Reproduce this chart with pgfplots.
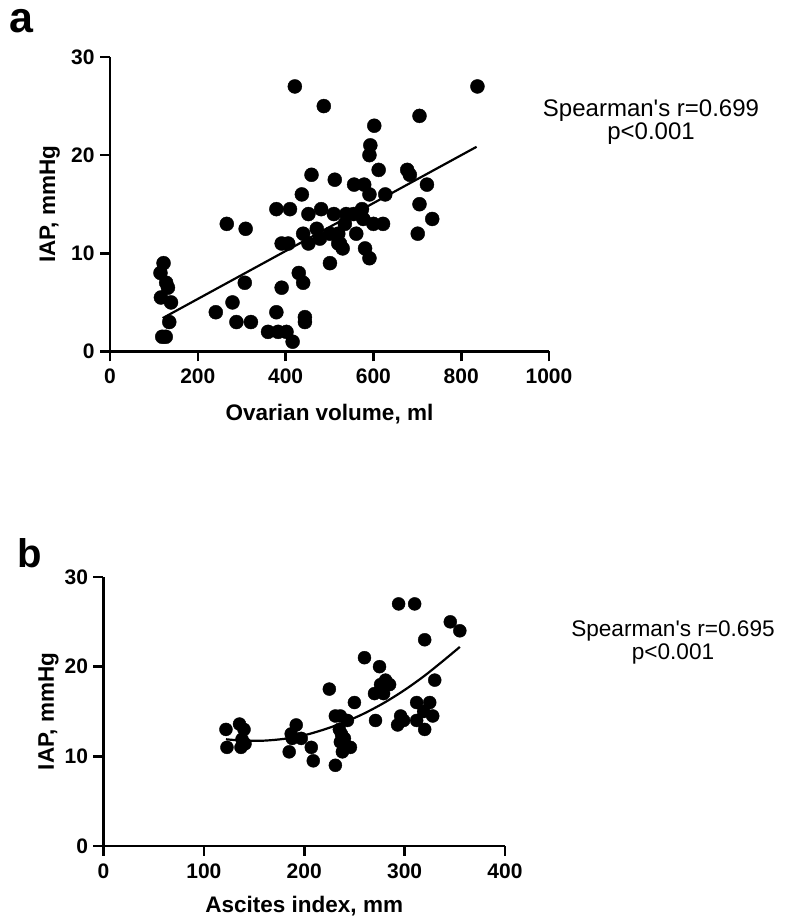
\documentclass[border=0pt]{standalone}
\usepackage{fontspec}
\setmainfont{Liberation Sans}
\usepackage{pgfplots}
\pgfplotsset{compat=1.18}

\pgfplotsset{
  panel/.style={
    scale only axis,
    axis x line*=bottom,
    axis y line*=left,
    axis line style={line width=2.6pt},
    every tick/.style={line width=2.6pt, black},
    major tick length=10pt,
    tick align=outside,
    ymin=0, ymax=30, ytick={0,10,20,30},
    tick label style={font=\bfseries\fontsize{21}{21}\selectfont},
    xticklabel style={yshift=-4pt},
    yticklabel style={xshift=-2pt},
    /pgf/number format/assume math mode=true,
    /pgf/number format/1000 sep={},
    label style={font=\bfseries\fontsize{22.5}{22.5}\selectfont},
    clip=false,
  },
  dots/.style={only marks, mark=*, mark size=#1, black, mark options={fill=black, draw=black}},
  fit/.style={no marks, black, line width=2.2pt, smooth},
}

\begin{document}
\begin{tikzpicture}
\useasboundingbox (0,0) rectangle (785pt,918pt);

% panel a
\begin{axis}[panel,
    at={(110pt,566.5pt)}, anchor=south west,
    width=439pt, height=294.5pt,
    xmin=0, xmax=1000, xtick={0,200,...,1000},
    xlabel={Ovarian volume, ml},
    ylabel={IAP, mmHg},
    xlabel style={at={(axis description cs:0.5,-0.236)}, anchor=base},
    ylabel style={at={(axis description cs:-0.137,0.5)}, anchor=center},
]
\addplot[dots=7pt] coordinates {
 (421,27) (487,25) (459,18) (512,17.5) (437,16) (379,14.5) (410,14.5) (452,14)
 (481,14.5) (510,14) (266,13) (309,12.5) (471,12.5) (440,12) (478,11.5) (501,12)
 (391,11) (406,11) (452,11) (520,11) (501,9) (122,9) (115,8) (128,7) (132,6.5)
 (116,5.5) (139,5) (135,3) (119,1.5) (127,1.5) (307,7) (279,5) (241,4) (288,3)
 (321,3) (391,6.5) (379,4) (360,2) (383,2) (402,2) (416,1) (430,8) (440,7)
 (444,3.5) (444,3)
 (837,27) (705,24) (602,23) (593,21) (591,20) (612,18.5) (677,18.5) (683,18)
 (556,17) (579,17) (591,16) (627,16) (722,17) (705,15) (734,13.5) (701,12)
 (538,14) (555,14) (574,14.5) (577,13.5) (600,13) (622,13) (535,13) (520,12)
 (561,12) (524,11) (530,10.5) (581,10.5) (591,9.5)
};
\addplot[no marks, black, line width=2.2pt] coordinates {(120,3.4) (835,20.85)};
\end{axis}

\node[anchor=base west, inner sep=0pt, font=\bfseries\fontsize{43}{43}\selectfont] at (9pt,885pt) {a};
\node[anchor=base, font=\fontsize{24}{24}\selectfont] at (651pt,801.3pt) {Spearman\textquotesingle s r=0.699};
\node[anchor=base, font=\fontsize{24}{24}\selectfont] at (651pt,778pt) {p<0.001};

% panel b
\begin{axis}[panel,
    at={(103.5pt,72pt)}, anchor=south west,
    width=401.5pt, height=269pt,
    xmin=0, xmax=400, xtick={0,100,...,400},
    xlabel={Ascites index, mm},
    ylabel={IAP, mmHg},
    xlabel style={at={(axis description cs:0.5,-0.249)}, anchor=base},
    ylabel style={at={(axis description cs:-0.137,0.5)}, anchor=center},
]
\addplot[dots=6.5pt] coordinates {
 (122,13) (123,11) (135.5,13.6) (140,13) (138,11.9) (137,11) (141,11.4)
 (192,13.5) (187,12.5) (188,12) (197,12) (185,10.5) (207,11) (209,9.5)
 (225,17.5) (231,14.5) (236,14.5) (243,14) (235,13) (237,12.5) (240,12) (236,11.6)
 (238,10.5) (246,11) (231,9) (250,16) (260,21) (275,20) (270,17) (279,17)
 (281,18.5) (276,18) (285,18) (271,14) (294,27) (310,27) (345.5,25) (355,24)
 (320,23) (330,18.5) (312,16) (325,16) (319,15) (328,14.5) (296,14.5) (299,14)
 (293,13.5) (312,14) (320,13)
};
\addplot[fit] coordinates {
 (122,11.9) (140,11.75) (160,11.75) (180,11.95) (200,12.35) (220,13.0) (240,13.8)
 (260,14.8) (280,16.0) (300,17.4) (320,19.0) (340,20.8) (355,22.2)
};
\end{axis}

\node[anchor=base west, inner sep=0pt, font=\bfseries\fontsize{40}{40}\selectfont] at (17pt,350pt) {b};
\node[anchor=base, font=\fontsize{22.6}{22.6}\selectfont] at (673pt,281.3pt) {Spearman\textquotesingle s r=0.695};
\node[anchor=base, font=\fontsize{22.6}{22.6}\selectfont] at (673pt,258pt) {p<0.001};
\end{tikzpicture}
\end{document}
